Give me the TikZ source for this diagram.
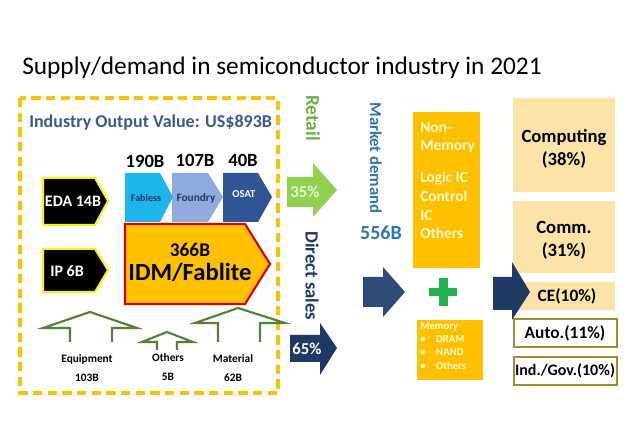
\documentclass[tikz,border=0pt]{standalone}
\usepackage{fontspec}
\setmainfont{Carlito}
\begin{document}
\begin{tikzpicture}[x=0.75pt,y=-0.75pt,
  lbl/.style={font=\bfseries\fontsize{14}{16}\selectfont},
  sub/.style={font=\bfseries\fontsize{8.5}{10}\selectfont,align=center},
  hollow/.style={draw=ogreen,line width=1.6pt,fill=white},
  every node/.style={inner sep=0pt}]
\definecolor{ogreen}{HTML}{548235}
\definecolor{navy}{HTML}{1F3864}
\definecolor{gold}{HTML}{FFC000}
\definecolor{lgold}{HTML}{FCE4A8}
\definecolor{brownb}{HTML}{A88A2A}
\definecolor{steel}{HTML}{3B5A8A}
\definecolor{osatc}{HTML}{2F5597}
\definecolor{foundc}{HTML}{8FAADC}
\definecolor{fabc}{HTML}{1EB4EC}
\definecolor{dtext}{HTML}{1F3864}
\definecolor{lgreen}{HTML}{92D050}
\definecolor{rgreen}{HTML}{70AD47}
\definecolor{mblue}{HTML}{2E75B6}
\definecolor{marr}{HTML}{2F4A77}
\definecolor{plusg}{HTML}{22B14C}
\useasboundingbox (0,0) rectangle (640,427);
\fill[white] (0,0) rectangle (640,427);
\node[anchor=west,font=\fontsize{19}{22}\selectfont] (title) at (22,68) {Supply/demand in semiconductor industry in 2021};
% dashed box
\draw[gold,line width=2.4pt,dash pattern=on 7pt off 4pt] (20,98) rectangle (278,393);
\node[anchor=west,font=\bfseries\fontsize{13.5}{16}\selectfont,text=steel] (iov) at (29,123) {Industry Output Value: US\$893B};
% numbers
\node[lbl] (n190) at (145,161) {190B};
\node[lbl] (n107) at (195,160) {107B};
\node[lbl] (n40) at (243,160) {40B};
% chain arrows
\fill[osatc] (223,173) -- (258,173) -- (272,197) -- (258,222) -- (223,222) -- cycle;
\fill[foundc] (172,173) -- (208,173) -- (223,197) -- (208,222) -- (172,222) -- cycle;
\fill[fabc] (125,173) -- (160,173) -- (173,197) -- (160,222) -- (125,222) -- cycle;
\node[font=\bfseries\fontsize{7.5}{8}\selectfont,text=dtext] (fab) at (146,198) {Fabless};
\node[font=\bfseries\fontsize{8.5}{9}\selectfont,text=dtext] (fou) at (196,198) {Foundry};
\node[font=\bfseries\fontsize{8}{9}\selectfont,text=white] (osat) at (244,194) {OSAT};
% EDA, IP
\draw[fill=black,draw=yellow,line width=1.5pt] (43,178) -- (95,178) -- (108,201) -- (95,225) -- (43,225) -- cycle;
\node[font=\bfseries\fontsize{12}{14}\selectfont,text=white] (eda) at (73,201) {EDA 14B};
\draw[fill=black,draw=yellow,line width=1.5pt] (43,249) -- (95,249) -- (108,270) -- (95,292) -- (43,292) -- cycle;
\node[font=\bfseries\fontsize{12}{14}\selectfont,text=white] (ip) at (67,271) {IP 6B};
% IDM
\draw[fill=gold,draw=red!85!black,line width=1.6pt] (125,224) -- (245,224) -- (270,264) -- (245,304) -- (125,304) -- cycle;
\node[font=\bfseries\fontsize{14.5}{16}\selectfont] (n366) at (190,250) {366B};
\node[font=\bfseries\fontsize{18.5}{20}\selectfont] (idm) at (190,272) {IDM/Fablite};
% hollow up arrows
\draw[hollow] (70,342) -- (70,328) -- (43,328) -- (90,312) -- (137,328) -- (112,328) -- (112,342);
\draw[hollow] (157,350) -- (157,342) -- (142,342) -- (167,332) -- (193,342) -- (177,342) -- (177,350);
\draw[hollow] (218,342) -- (218,323) -- (195,323) -- (238,308) -- (285,323) -- (260,323) -- (260,342);
\node[sub] (equ) at (87,368) {Equipment\\[4pt]103B};
\node[sub] (oth) at (168,367) {Others\\[4pt]5B};
\node[sub] (mat) at (233,368) {Material\\[4pt]62B};
% retail / direct sales
\node[rotate=-90,font=\bfseries\fontsize{14.5}{16}\selectfont,text=rgreen] (retail) at (313,118) {Retail};
\node[rotate=-90,font=\bfseries\fontsize{14}{16}\selectfont,text=navy] (direct) at (312,276) {Direct sales};
\fill[lgreen] (287,177) -- (313,177) -- (313,163) -- (337,190) -- (313,217) -- (313,207) -- (287,207) -- cycle;
\node[font=\bfseries\fontsize{12.5}{14}\selectfont,text=white!85!green] (p35) at (305,192) {35\%};
\fill[navy] (290,335) -- (320,335) -- (320,323) -- (337,348) -- (320,375) -- (320,362) -- (290,362) -- cycle;
\node[font=\bfseries\fontsize{12.5}{14}\selectfont,text=white] (p65) at (307,349) {65\%};
% market demand
\node[rotate=-90,font=\bfseries\fontsize{12.5}{14}\selectfont,text=mblue] (md) at (376,158) {Market demand};
\node[font=\bfseries\fontsize{15}{16}\selectfont,text=mblue] (n556) at (381,233) {556B};
\fill[marr] (363,277) -- (383,277) -- (383,267) -- (405,292) -- (383,317) -- (383,307) -- (363,307) -- cycle;
% non-memory
\fill[gold] (413,112) rectangle (480,268);
\node[anchor=north west,align=left,font=\bfseries\fontsize{11.5}{14}\selectfont,text=white!80!yellow] (nm) at (420,122) {Non-\\Memory\\[10pt]Logic IC\\Control\\IC\\Others};
\fill[plusg] (429,288) rectangle (457,296.5);
\fill[plusg] (438.5,278.5) rectangle (447.5,306);
\fill[gold] (417,320) rectangle (483,380);
\node[anchor=north west,align=left,font=\bfseries\fontsize{8}{9}\selectfont,text=white!80!yellow] (mem) at (420,322) {Memory\\[1pt]\textbullet\quad DRAM\\[1pt]\textbullet\quad NAND\\[1pt]\textbullet\quad Others};
% right side boxes
\fill[lgold] (513,98) rectangle (615,192);
\node[font=\bfseries\fontsize{14}{17}\selectfont,align=center] (comp) at (564,149) {Computing\\(38\%)};
\fill[lgold] (513,201) rectangle (615,273);
\node[font=\bfseries\fontsize{14}{17}\selectfont,align=center] (comm) at (564,240) {Comm.\\(31\%)};
\fill[lgold] (513,282) rectangle (615,310);
\node[font=\bfseries\fontsize{13}{15}\selectfont] (ce) at (567,296) {CE(10\%)};
\fill[navy] (493,277) -- (512,277) -- (512,262) -- (530,292) -- (512,320) -- (512,310) -- (493,310) -- cycle;
\draw[brownb,line width=1.8pt,fill=white] (514,319) rectangle (617,347);
\node[font=\bfseries\fontsize{13}{15}\selectfont] (auto) at (565,333) {Auto.(11\%)};
\draw[brownb,line width=1.8pt,fill=white] (514,357) rectangle (617,385);
\node[font=\bfseries\fontsize{12}{15}\selectfont] (ind) at (565,371) {Ind./Gov.(10\%)};
\end{tikzpicture}
\end{document}
